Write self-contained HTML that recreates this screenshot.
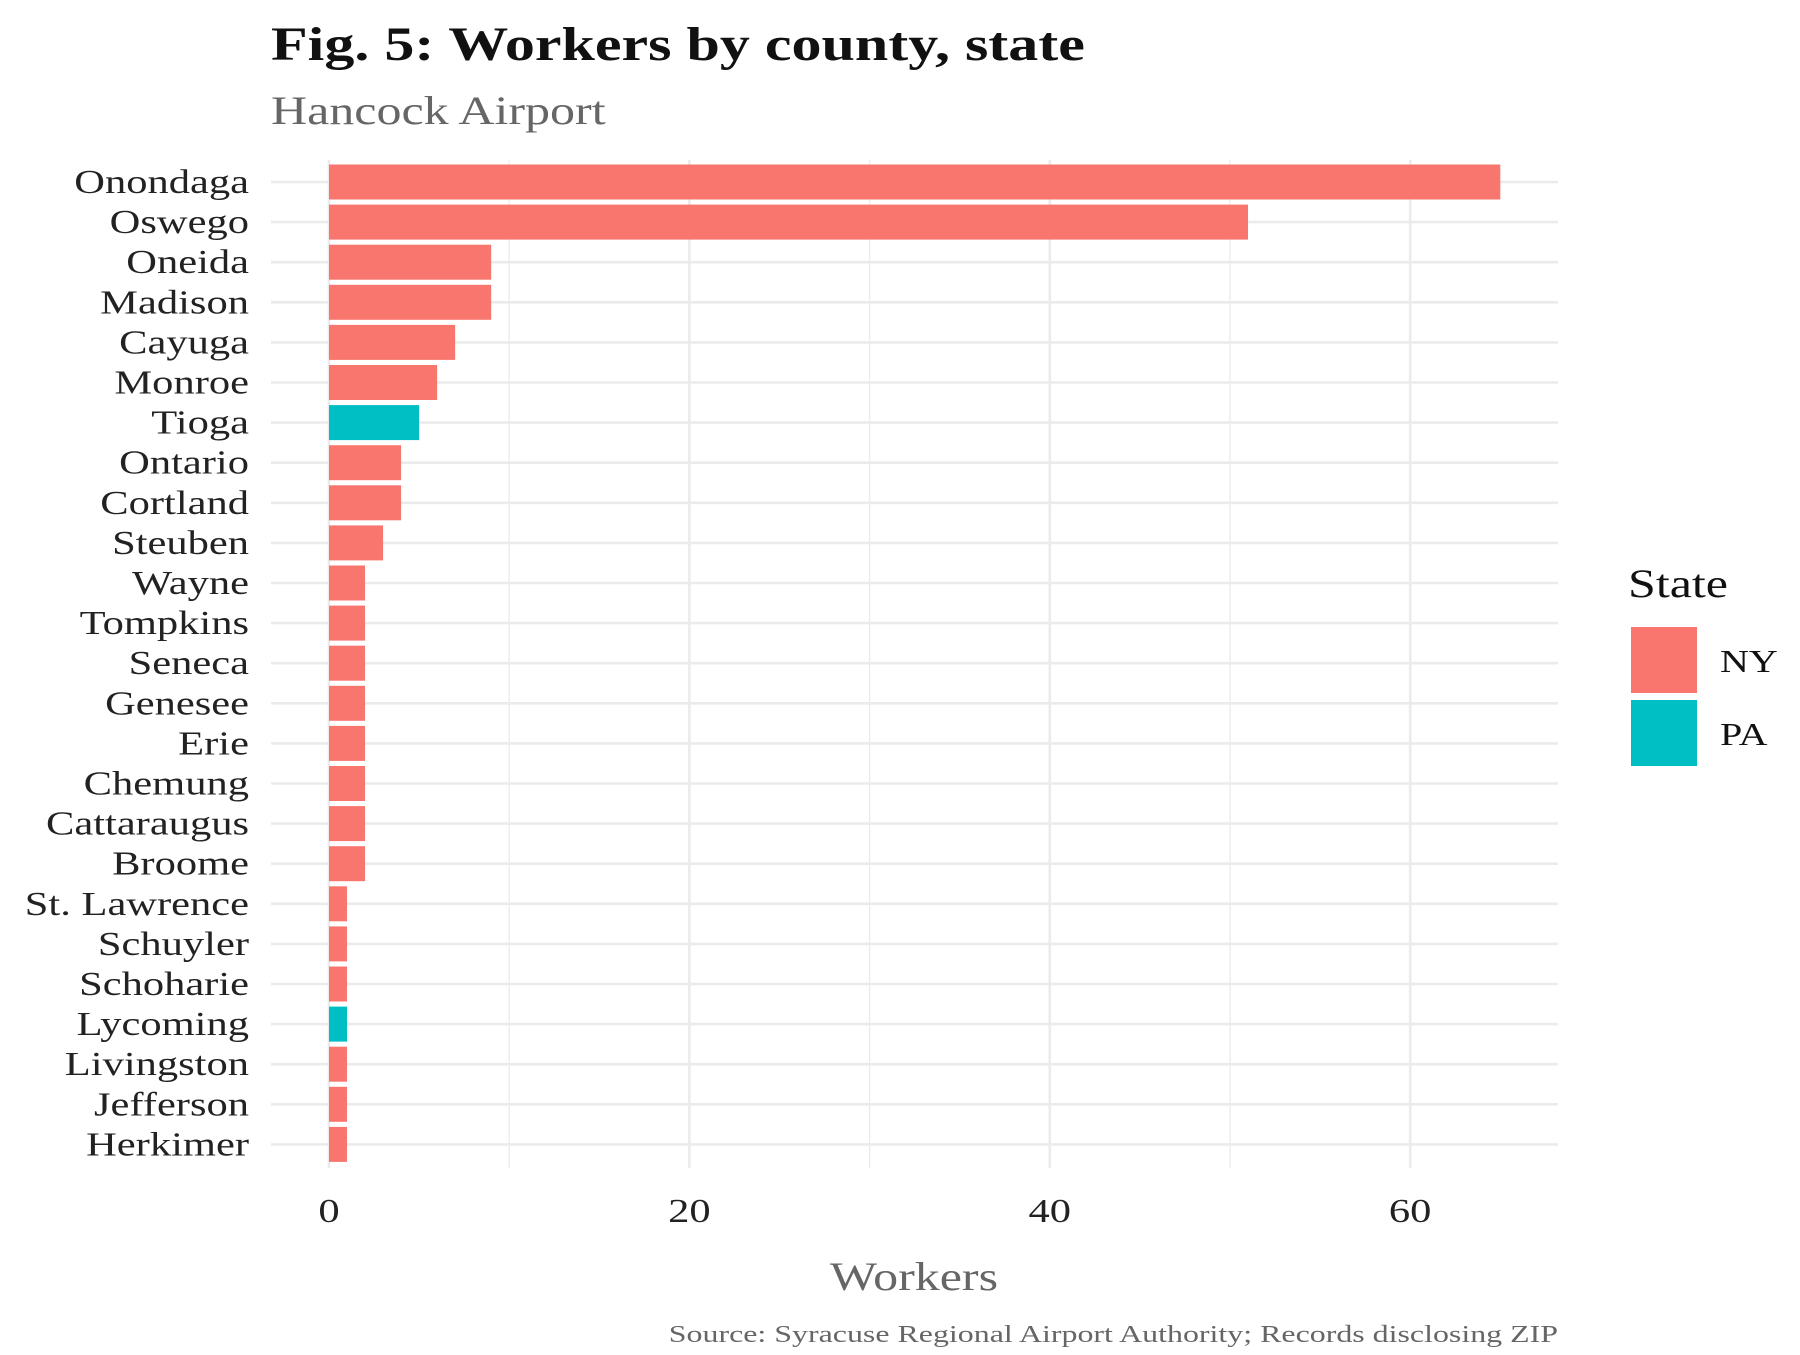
<!DOCTYPE html>
<html><head><meta charset="utf-8"><style>
html,body{margin:0;padding:0;background:#fff;}
svg text{font-family:"Liberation Serif",serif;}
</style></head><body>
<svg id="chart" width="1800" height="1350" xmlns="http://www.w3.org/2000/svg">
<text class="st" x="271" y="60" font-size="48" font-weight="bold" fill="#111">Fig. 5: Workers by county, state</text>
<text class="st" x="271" y="124" font-size="40" fill="#666">Hancock Airport</text>
<g id="grid"></g><g id="bars"></g><g id="ylabels"></g><g id="xlabels"></g>
<text class="st" x="914" y="1290" font-size="40" fill="#666" text-anchor="middle">Workers</text>
<text class="st" data-k="1.33" x="1558" y="1342" font-size="24" fill="#666" text-anchor="end">Source: Syracuse Regional Airport Authority; Records disclosing ZIP</text>
<g>
<text class="st" x="1628" y="597" font-size="40" fill="#111">State</text>
<rect x="1631" y="627" width="66" height="66" fill="#F8766D"/>
<text class="st" x="1720" y="672" font-size="32" fill="#111">NY</text>
<rect x="1631" y="700" width="66" height="66" fill="#00BFC4"/>
<text class="st" x="1720" y="745" font-size="32" fill="#111">PA</text>
</g>
</svg>
<script>
const counties=["Onondaga","Oswego","Oneida","Madison","Cayuga","Monroe","Tioga","Ontario","Cortland","Steuben","Wayne","Tompkins","Seneca","Genesee","Erie","Chemung","Cattaraugus","Broome","St. Lawrence","Schuyler","Schoharie","Lycoming","Livingston","Jefferson","Herkimer"];
const workers=[65,51,9,9,7,6,5,4,4,3,2,2,2,2,2,2,2,2,1,1,1,1,1,1,1];
const states=["NY","NY","NY","NY","NY","NY","PA","NY","NY","NY","NY","NY","NY","NY","NY","NY","NY","NY","NY","NY","NY","PA","NY","NY","NY"];
const xTicks=[0,20,40,60];
const xMinor=[10,30,50];
const NS="http://www.w3.org/2000/svg";
const x0=329,pxPerUnit=18.02,y0=182,step=40.1,barH=35,panelL=271,panelR=1558,panelT=160,panelB=1168;
const xs=v=>x0+v*pxPerUnit;
const ys=i=>y0+i*step;
const colors={NY:"#F8766D",PA:"#00BFC4"};
function mk(tag,attrs,parent){const e=document.createElementNS(NS,tag);for(const k in attrs)e.setAttribute(k,attrs[k]);document.getElementById(parent).appendChild(e);return e;}
xMinor.forEach(v=>{const l=mk("line",{x1:xs(v),x2:xs(v),y1:panelT,y2:panelB,stroke:"#ebebeb","stroke-width":1.3},"grid");

});
xTicks.forEach(v=>{const l=mk("line",{x1:xs(v),x2:xs(v),y1:panelT,y2:panelB,stroke:"#ebebeb","stroke-width":2.6},"grid");


const t=mk("text",{x:xs(v),y:1222,"font-size":34,fill:"#222","text-anchor":"middle",class:"st"},"xlabels");t.textContent=v;

});
counties.forEach((c,i)=>{const l=mk("line",{x1:panelL,x2:panelR,y1:ys(i),y2:ys(i),stroke:"#ebebeb","stroke-width":2.6},"grid");


const r=mk("rect",{x:xs(0),y:ys(i)-barH/2,width:xs(workers[i])-xs(0),height:barH,fill:colors[states[i]]},"bars");


const t=mk("text",{x:249,y:ys(i)+11,"font-size":34,fill:"#222","text-anchor":"end",class:"st"},"ylabels");t.textContent=c;

});
document.querySelectorAll("text.st").forEach(t=>{const k=parseFloat(t.getAttribute("data-k")||"1.25");const w=t.getComputedTextLength();t.setAttribute("textLength",(w*k).toFixed(1));t.setAttribute("lengthAdjust","spacingAndGlyphs");});
</script>
</body></html>
